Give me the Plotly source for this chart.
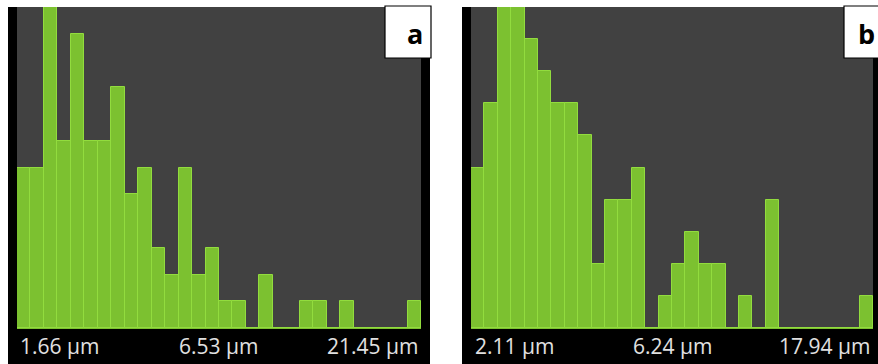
import plotly.graph_objects as go

W, H = 878, 364

bins = list(range(30))
counts_a = [6, 6, 12, 7, 11, 7, 7, 9, 5, 6, 3, 2, 6, 2, 3, 1, 1, 0, 2, 0, 0, 1, 1, 0, 1, 0, 0, 0, 0, 1]
counts_b = [5, 7, 10, 10, 9, 8, 7, 7, 6, 2, 4, 4, 5, 0, 1, 2, 3, 2, 2, 0, 1, 0, 4, 0, 0, 0, 0, 0, 0, 1]
labels_a = ["1.66 µm", "6.53 µm", "21.45 µm"]
labels_b = ["2.11 µm", "6.24 µm", "17.94 µm"]

GREEN = "#7cc130"
EDGE = "#92dc3e"
GREY = "#414141"

def px(x):
    return x / W

def py(y):
    return (H - y) / H

fig = go.Figure()
fig.add_trace(go.Bar(x=bins, y=counts_a, xaxis="x", yaxis="y",
                     marker=dict(color=GREEN, line=dict(color=EDGE, width=1)),
                     hoverinfo="skip"))
fig.add_trace(go.Bar(x=bins, y=counts_b, xaxis="x2", yaxis="y2",
                     marker=dict(color=GREEN, line=dict(color=EDGE, width=1)),
                     hoverinfo="skip"))

ydom = [py(328), py(7)]
common_x = dict(showgrid=False, zeroline=False, showticklabels=False, ticks="",
                range=[-0.5, 29.5], fixedrange=True)
common_y = dict(showgrid=False, zeroline=True, zerolinecolor=GREEN, zerolinewidth=2,
                showticklabels=False, ticks="", fixedrange=True)

shapes = []
# black frames around panels, then grey plotting areas
for (x0, x1), (g0, g1) in [((8, 430), (17, 421)), ((462, 890), (471, 873))]:
    shapes.append(dict(type="rect", xref="paper", yref="paper",
                       x0=px(x0), x1=px(x1), y0=py(366), y1=py(7),
                       fillcolor="black", line=dict(width=0), layer="below"))
    shapes.append(dict(type="rect", xref="paper", yref="paper",
                       x0=px(g0), x1=px(g1), y0=py(328), y1=py(7),
                       fillcolor=GREY, line=dict(width=0), layer="below"))
# label boxes
annotations = []
for x0, lab, lx in [(385, "a", 405), (844, "b", 856)]:
    shapes.append(dict(type="rect", xref="paper", yref="paper",
                       x0=px(x0), x1=px(x0 + 46), y0=py(58), y1=py(6),
                       fillcolor="white", line=dict(color="black", width=1.2), layer="above"))
    annotations.append(dict(text="<b>" + lab + "</b>", xref="paper", yref="paper",
                            x=px(lx), y=py(33), xanchor="left", yanchor="middle",
                            showarrow=False, font=dict(family="Open Sans", size=27, color="black")))

# bottom labels
label_font = dict(family="Open Sans", size=21, color="#e0e0e0")
for labs, xl, xc, xr in [(labels_a, 18, 218, 420), (labels_b, 473, 672, 872)]:
    annotations.append(dict(text=labs[0], xref="paper", yref="paper", x=px(xl), y=py(346),
                            xanchor="left", yanchor="middle", showarrow=False, font=label_font))
    annotations.append(dict(text=labs[1], xref="paper", yref="paper", x=px(xc), y=py(346),
                            xanchor="center", yanchor="middle", showarrow=False, font=label_font))
    annotations.append(dict(text=labs[2], xref="paper", yref="paper", x=px(xr), y=py(346),
                            xanchor="right", yanchor="middle", showarrow=False, font=label_font))

fig.update_layout(
    width=W, height=H,
    margin=dict(l=0, r=0, t=0, b=0),
    paper_bgcolor="white",
    plot_bgcolor=GREY,
    showlegend=False,
    bargap=0,
    xaxis=dict(domain=[px(17), px(421)], anchor="y", **common_x),
    yaxis=dict(domain=ydom, anchor="x", range=[0, 12], **common_y),
    xaxis2=dict(domain=[px(471), px(873)], anchor="y2", **common_x),
    yaxis2=dict(domain=ydom, anchor="x2", range=[0, 10], **common_y),
    shapes=shapes,
    annotations=annotations,
)

fig.write_html("out.html", config={"displayModeBar": False},
               post_script="document.body.style.margin='0';document.body.style.overflow='hidden';")
